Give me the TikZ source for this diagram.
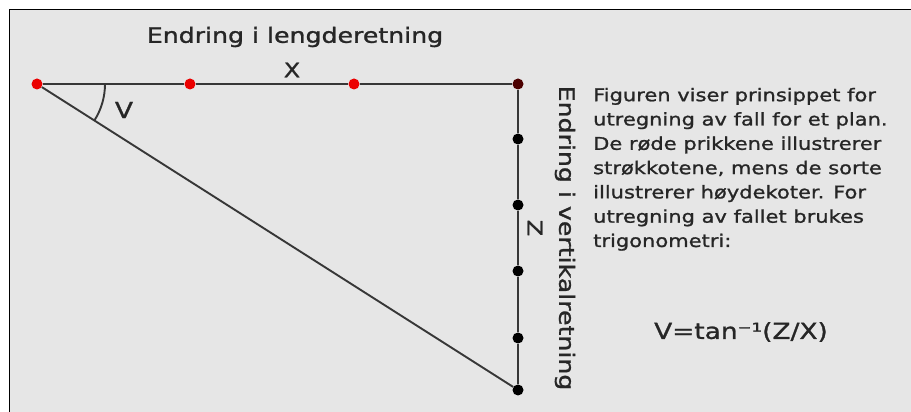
\documentclass[tikz,border=0pt]{standalone}
\usepackage{fontspec}
\setmainfont{DejaVu Sans}[FakeStretch=1.2,FakeBold=1.2]
\usetikzlibrary{positioning}
\definecolor{panel}{RGB}{230,230,230}
\definecolor{stroke}{RGB}{55,55,55}
\definecolor{strok}{RGB}{235,0,0}

\begin{document}
\begin{tikzpicture}[x=1pt,y=1pt,
      dot/.style={circle,fill=black,inner sep=0pt,minimum size=11pt},
      reddot/.style={dot,fill=strok},
      leg/.style={draw=stroke,line width=1.9pt},
      lbl/.style={inner sep=0pt,text=black!85}]
      \useasboundingbox (0,0) rectangle (911,412);
      % panel and frame
      \fill[panel] (9,0) rectangle (911,402.5);
      \draw[line width=1.8pt] (9.5,0) -- (9.5,402.5) -- (911,402.5);
      % dots along the two legs
      \node[reddot] (p0) at (37,328) {};
      \node[reddot] (p1) at (190,328) {};
      \node[reddot] (p2) at (354,328) {};
      \node[dot,fill=red!30!black] (top) at (518,328) {};
      \node[dot] (h1) at (518,273) {};
      \node[dot] (h2) at (518,207) {};
      \node[dot] (h3) at (518,141) {};
      \node[dot] (h4) at (518,74) {};
      \node[dot] (bottom) at (518,22) {};
      \draw[leg] (p0)--(p1)--(p2)--(top);
      \draw[leg] (top)--(h1)--(h2)--(h3)--(h4)--(bottom);
      \draw[leg] (p0)--(bottom);
      \draw[leg] ([xshift=68pt]p0.center) arc[start angle=0,end angle=-32.5,radius=68pt];
      % labels
      \node[lbl,font=\fontsize{21}{24}\selectfont] (title) at (295,375) {Endring i lengderetning};
      \node[lbl,font=\fontsize{20}{24}\selectfont] (xlbl) at (292,342) {X};
      \node[lbl,font=\fontsize{22}{24}\selectfont] (vlbl) at (124,302) {V};
      \node[lbl,rotate=-90,font=\fontsize{21}{24}\selectfont] (side) at (565,174) {Endring i vertikalretning};
      \node[lbl,rotate=-90,font=\fontsize{20}{24}\selectfont] (zlbl) at (535,184) {Z};
      \node[lbl,anchor=north west,align=left,font=\fontsize{17.5}{24.3}\selectfont] (info) at (593,324.3)
        {Figuren viser prinsippet for\\utregning av fall for et plan.\\De røde prikkene illustrerer\\strøkkotene, mens de sorte\\illustrerer høydekoter. For\\utregning av fallet brukes\\trigonometri:};
      \node[lbl,font=\fontsize{22}{24}\selectfont] (formula) at (741,80) {V=tan⁻¹(Z/X)};
    \end{tikzpicture}
\end{document}
